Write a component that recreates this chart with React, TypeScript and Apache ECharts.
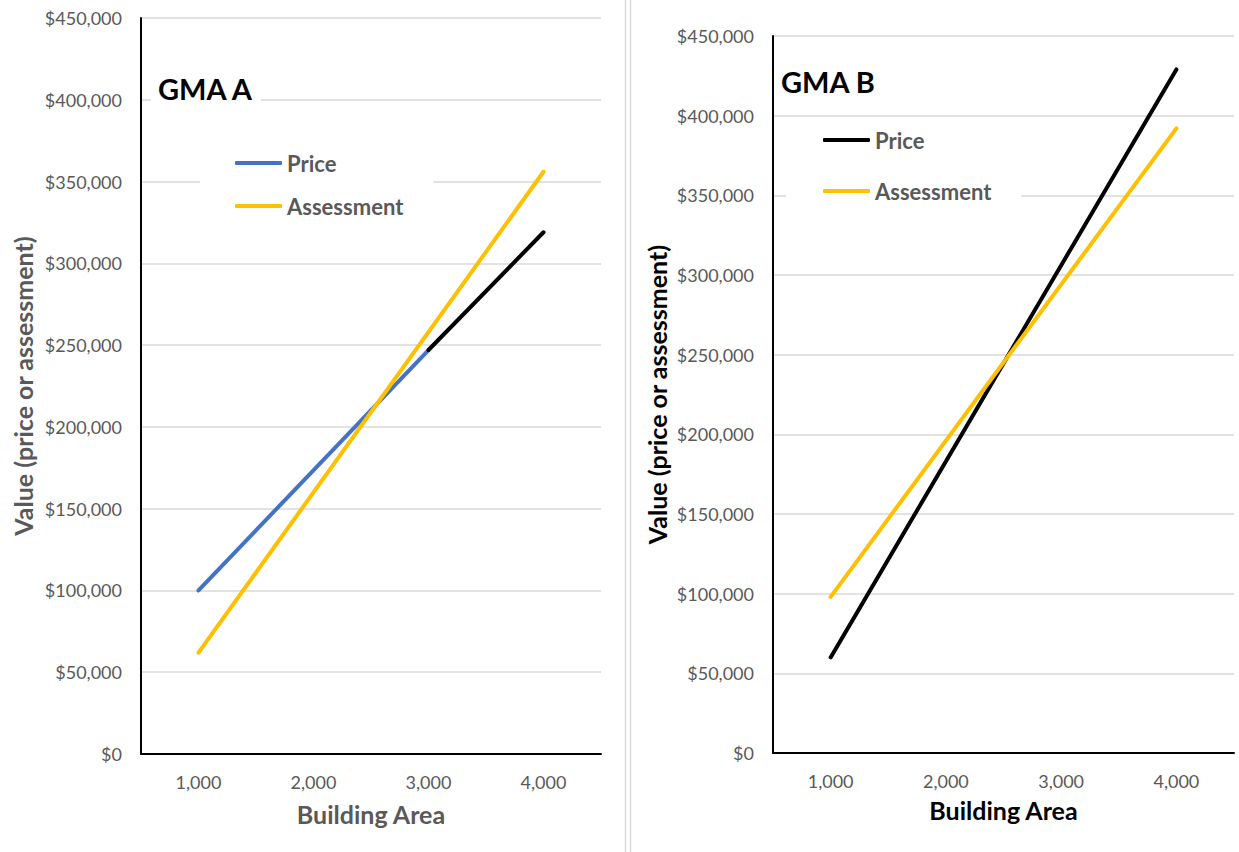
import React, { useEffect, useRef } from "react";
import * as echarts from "echarts";

const areaCategories = ["1,000", "2,000", "3,000", "4,000"];
// GMA A
const gmaAPrice = [100000, null, 247000, 319000];
const gmaAPriceBlueUntil = 2; // index where colour switches to black
const gmaAAssessment = [62000, null, null, 356000];
// GMA B
const gmaBPrice = [60000, null, null, 429000];
const gmaBAssessment = [98000, null, null, 392000];

const yMin = 0;
const yMax = 450000;
const yStep = 50000;

const FONT = "Lato, 'Open Sans', sans-serif";
const GRAY = "#595959";
const BLUE = "#4472C4";
const GOLD = "#FFC000";
const GRID = "#d9d9d9";

const money = (v: number) => "$" + v.toLocaleString("en-US");
const dash = (arr: (number | null)[]) => arr.map((v) => (v === null ? "-" : v));

export default function App() {
  const ref = useRef<HTMLDivElement>(null);
  useEffect(() => {
    if (!ref.current) return;
    const chart = echarts.init(ref.current, null, { renderer: "svg" });

    const yAxisBase = (gridIndex: number, nameColor: string, nameGap: number) => ({
      type: "value",
      gridIndex,
      min: yMin,
      max: yMax,
      interval: yStep,
      name: "Value (price or assessment)",
      nameLocation: "middle",
      nameGap,
      nameTextStyle: { fontFamily: FONT, fontWeight: "bold", fontSize: 25, color: nameColor },
      axisLine: { show: true, lineStyle: { color: "#000", width: 2 } },
      axisTick: { show: false },
      axisLabel: { formatter: money, fontFamily: FONT, fontSize: 18, color: GRAY, margin: 19 },
      splitLine: { show: true, lineStyle: { color: GRID, width: 1.5 } },
    });
    const xAxisBase = (gridIndex: number, nameColor: string, nameGap: number) => ({
      type: "category",
      gridIndex,
      data: areaCategories,
      boundaryGap: true,
      name: "Building Area",
      nameLocation: "middle",
      nameGap,
      nameTextStyle: { fontFamily: FONT, fontWeight: "bold", fontSize: 25, color: nameColor },
      axisLine: { show: true, lineStyle: { color: "#000", width: 2 } },
      axisTick: { show: false },
      axisLabel: { fontFamily: FONT, fontSize: 18, color: GRAY, margin: 19 },
      splitLine: { show: false },
    });

    const lineSeries = (name: string, data: any[], color: string, idx: number) => ({
      type: "line",
      name,
      xAxisIndex: idx,
      yAxisIndex: idx,
      data,
      connectNulls: true,
      symbol: "none",
      showSymbol: false,
      lineStyle: { color, width: 4, cap: "round" },
      itemStyle: { color },
      z: 3,
    });

    const priceBlue = gmaAPrice.map((v, i) => (i <= gmaAPriceBlueUntil && v !== null ? v : "-"));
    const priceBlack = gmaAPrice.map((v, i) => (i >= gmaAPriceBlueUntil && v !== null ? v : "-"));

    chart.setOption({
      animation: false,
      backgroundColor: "#fff",
      textStyle: { fontFamily: FONT },
      grid: [
        { left: 141, top: 18, width: 460, height: 736 },
        { left: 773, top: 36, width: 461, height: 717 },
      ],
      xAxis: [xAxisBase(0, GRAY, 47), xAxisBase(1, "#000", 44)],
      yAxis: [yAxisBase(0, GRAY, 106), yAxisBase(1, "#000", 104)],
      title: [
        {
          text: "GMA A",
          left: 151,
          top: 72,
          backgroundColor: "#fff",
          padding: [2, 7],
          textStyle: { fontFamily: FONT, fontWeight: "bold", fontSize: 29, color: "#000" },
        },
        {
          text: "GMA B",
          left: 774,
          top: 65,
          padding: [2, 7],
          textStyle: { fontFamily: FONT, fontWeight: "bold", fontSize: 29, color: "#000" },
        },
      ],
      legend: [
        {
          data: ["Price", "Assessment"],
          orient: "vertical",
          left: 200,
          top: 136,
          padding: [15, 30, 10, 35],
          backgroundColor: "#fff",
          itemGap: 19,
          itemWidth: 47,
          itemHeight: 4,
          icon: "roundRect",
          selectedMode: false,
          textStyle: { fontFamily: FONT, fontWeight: "bold", fontSize: 22, lineHeight: 24, color: GRAY },
        },
        {
          data: ["Price B", "Assessment B"],
          orient: "vertical",
          left: 786,
          top: 120,
          padding: [8, 30, 12, 37],
          backgroundColor: "#fff",
          itemGap: 27,
          itemWidth: 47,
          itemHeight: 4,
          icon: "roundRect",
          selectedMode: false,
          formatter: (n: string) => n.replace(/ B$/, ""),
          textStyle: { fontFamily: FONT, fontWeight: "bold", fontSize: 22, lineHeight: 24, color: GRAY },
        },
      ],
      series: [
        lineSeries("Price", priceBlue, BLUE, 0),
        lineSeries("Price (above 3,000)", priceBlack, "#000", 0),
        lineSeries("Assessment", dash(gmaAAssessment), GOLD, 0),
        lineSeries("Price B", dash(gmaBPrice), "#000", 1),
        lineSeries("Assessment B", dash(gmaBAssessment), GOLD, 1),
      ],
      graphic: [
        { type: "line", shape: { x1: 625.5, y1: 0, x2: 625.5, y2: 852 }, style: { stroke: GRID, lineWidth: 1.5 } },
        { type: "line", shape: { x1: 630.5, y1: 0, x2: 630.5, y2: 852 }, style: { stroke: GRID, lineWidth: 1.5 } },
      ],
    });
    return () => chart.dispose();
  }, []);
  return (
    <div
      ref={ref}
      style={{ position: "fixed", left: 0, top: 0, width: 1239, height: 852, background: "#fff" }}
    />
  );
}
